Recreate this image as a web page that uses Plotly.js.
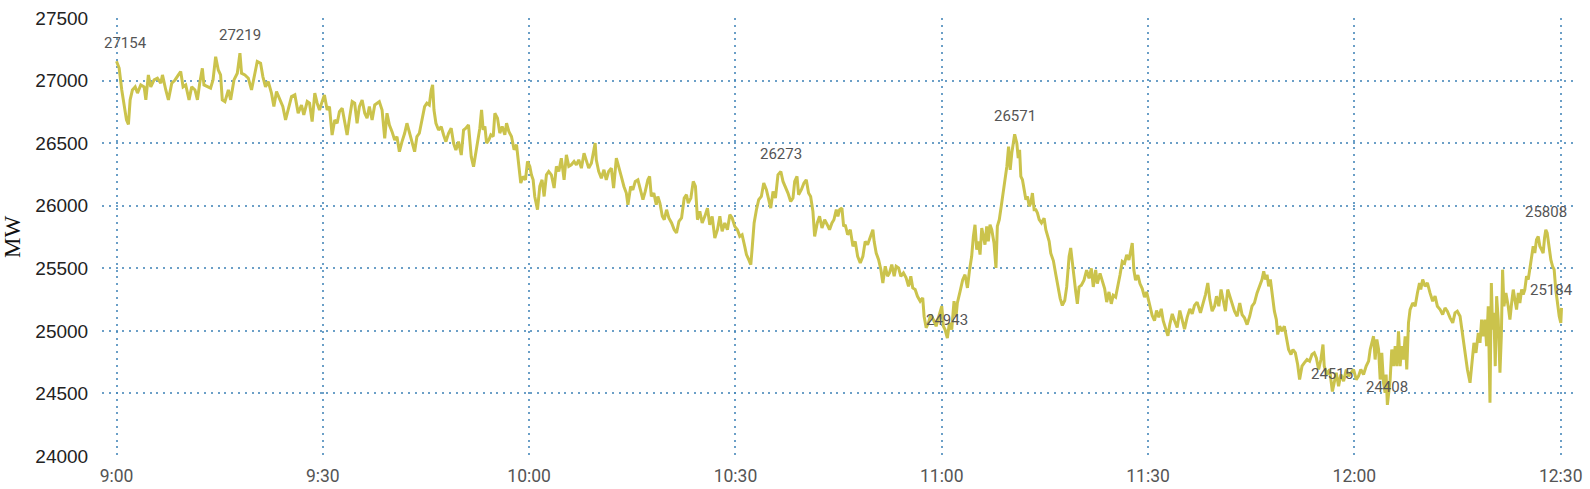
<!DOCTYPE html>
<html>
<head>
<meta charset="utf-8">
<script src="https://cdn.plot.ly/plotly-3.0.1.min.js"></script>
<style>
  html, body { margin: 0; padding: 0; background: #fff; }
  #chart { width: 1590px; height: 489px; }
</style>
</head>
<body>
<div id="chart"></div>
<script>
// minutes after 9:00 and load in MW
var mins = [
  0.0, 0.39, 0.77, 1.11, 1.45, 1.74, 1.98, 2.32, 2.71, 3.05, 3.53, 4.02, 4.26, 4.64, 4.98, 5.47, 5.95, 6.43, 6.68, 7.16,
  7.55, 8.03, 8.51, 9.0, 9.34, 9.68, 10.06, 10.55, 10.93, 11.42, 11.76, 12.1, 12.48, 12.72, 13.21, 13.69, 14.03, 14.42, 14.8, 15.14,
  15.38, 15.77, 16.26, 16.6, 17.08, 17.56, 17.95, 18.19, 18.67, 19.16, 19.64, 19.98, 20.46, 20.95, 21.29, 21.67, 22.06, 22.54, 22.88, 23.27,
  23.71, 24.19, 24.58, 25.06, 25.45, 25.93, 26.42,
  26.9, 27.24, 27.73, 28.06, 28.45, 28.84, 29.18, 29.52, 29.9, 30.24, 30.63, 30.97, 31.35, 31.74, 32.08, 32.42, 32.81, 33.19, 33.53, 33.92,
  34.26, 34.64, 34.98, 35.32, 35.71, 36.1, 36.43, 36.77, 37.16, 37.55, 37.89, 38.22, 38.61, 39.0, 39.34, 39.68, 40.06, 40.45, 40.79, 41.13,
  41.51, 41.9, 42.24, 42.58, 42.97, 43.35, 43.69, 44.03, 44.42, 44.8, 45.14, 45.48, 45.77, 45.97, 46.16, 46.45, 46.84, 47.22, 47.56, 47.9,
  48.29, 48.67, 49.01, 49.35, 49.74, 50.13, 50.46, 50.8, 51.19, 51.58, 51.92, 52.25, 52.64,
  52.84, 53.08, 53.32, 53.57, 53.81, 54.15, 54.44, 54.78, 55.02, 55.4, 55.74, 56.08, 56.47, 56.71, 57.05, 57.44, 57.82, 58.16, 58.5, 58.79,
  59.13, 59.47, 59.76, 60.1, 60.34, 60.58, 60.82, 61.21, 61.55, 61.89, 62.18, 62.52, 62.85, 63.24, 63.63, 63.97, 64.31, 64.69, 65.08, 65.42,
  65.76, 66.14, 66.53, 66.87, 67.21, 67.6, 67.98, 68.32, 68.66, 69.05, 69.6, 69.77, 70.11, 70.5, 70.89, 71.22, 71.56, 71.95, 72.29, 72.68,
  73.01, 73.4, 73.79, 74.13, 74.37, 74.76, 75.09, 75.43, 75.82, 76.21, 76.55, 76.88, 77.27, 77.51, 77.76, 78.14, 78.48, 78.72,
  79.02, 79.36, 79.65, 79.99, 80.32, 80.71, 81.1, 81.44, 81.78, 82.16, 82.55, 82.89, 83.13, 83.52, 83.86, 84.19, 84.48, 84.82, 85.16, 85.55,
  85.94, 86.27, 86.61, 87.0, 87.39, 87.73, 88.06, 88.45, 88.84, 89.18, 89.52, 89.9, 90.29, 90.63, 90.97, 91.35, 91.6, 91.94, 92.23, 92.42,
  92.71, 93.05, 93.39, 93.77, 94.11, 94.5, 94.84, 95.13, 95.47, 95.81, 96.19, 96.6, 96.92, 97.26, 97.64, 98.03, 98.37, 98.61, 98.95, 99.19,
  99.58, 99.97, 100.3, 100.64, 100.93, 101.27, 101.51, 101.9, 102.24, 102.58, 102.97, 103.35, 103.69, 104.03, 104.32, 104.66, 104.9,
  105.15, 105.49, 105.73, 105.97, 106.31, 106.7, 107.08, 107.42, 107.76, 108.15, 108.53, 108.87, 109.21, 109.6, 109.98, 110.17, 110.47, 110.81, 111.15, 111.44,
  111.78, 112.11, 112.4, 112.74, 113.08, 113.37, 113.71, 114.05, 114.44, 114.82, 115.16, 115.5, 115.79, 116.13, 116.47, 116.86, 117.24, 117.44, 117.73, 118.06,
  118.4, 118.79, 119.18, 119.52, 119.76, 120.0, 120.24, 120.48, 120.82, 121.11, 121.45, 121.79, 122.08, 122.27, 122.66, 123.05, 123.39, 123.73, 124.02, 124.35,
  124.6, 124.84, 125.08, 125.32, 125.56, 125.81, 126.05, 126.29, 126.53, 126.77, 127.02, 127.26, 127.6, 127.89, 128.08, 128.37, 128.71, 128.95,
  129.47, 129.71, 129.95, 130.19, 130.43, 130.6, 130.92, 131.11, 131.31, 131.5, 131.74, 131.98, 132.23, 132.47, 132.71, 132.95, 133.19, 133.43, 133.68, 133.92,
  134.16, 134.5, 134.89, 135.13, 135.37, 135.61, 135.85, 136.24, 136.58, 136.82, 137.21,
  137.54, 137.88, 138.17, 138.51, 138.75, 138.99, 139.24, 139.48, 139.72, 139.96, 140.3, 140.69, 141.07, 141.41, 141.75, 142.04, 142.38, 142.62, 143.01, 143.35,
  143.69, 143.98, 144.32, 144.65, 144.94, 145.28, 145.62, 145.91, 146.25, 146.59, 146.88, 147.22, 147.46, 147.7, 147.94, 148.19, 148.52, 148.82, 149.15, 149.49,
  149.78, 150.12, 150.36, 150.6, 150.94, 151.23, 151.57, 151.91, 152.2, 152.54, 152.88, 153.17, 153.51, 153.85, 154.23, 154.62, 154.96, 155.3, 155.69, 156.07,
  156.41, 156.75, 157.14,
  157.62, 158.01, 158.35, 158.69, 158.98, 159.32, 159.66, 159.95, 160.28, 160.62, 160.91, 161.25, 161.59, 161.88, 162.22, 162.56, 162.95, 163.33, 163.67, 164.01,
  164.4, 164.78, 165.12, 165.46, 165.85, 166.24, 166.57, 166.82, 167.06, 167.3, 167.54, 167.78, 168.03, 168.36, 168.65, 168.85, 169.14, 169.48, 169.82, 170.11,
  170.44, 170.78, 171.07, 171.41, 171.75, 172.04, 172.38, 172.72, 173.11, 173.49, 173.83, 174.17, 174.46, 174.8, 175.14, 175.43, 175.62, 176.01, 176.4, 176.8,
  177.1, 177.36, 177.7, 178.04, 178.43, 178.81, 179.15, 179.49, 179.88, 180.27, 180.6, 180.94, 181.33, 181.72, 182.06, 182.3, 182.54, 182.78, 183.02, 183.27,
  183.51, 183.75, 183.99, 184.23, 184.47, 184.62, 184.8, 185.2, 185.44, 185.68, 185.93, 186.17, 186.41, 186.65, 186.89, 187.14, 187.38, 187.62, 187.86, 188.1,
  188.49, 188.83, 189.17, 189.46, 189.65, 189.94, 190.28, 190.62, 191.0, 191.39, 191.73, 192.07, 192.46, 192.84, 193.18, 193.52, 193.91, 194.3, 194.63, 194.97,
  195.36, 195.75, 196.09, 196.43, 196.81, 197.1, 197.39, 197.68, 198.02, 198.26, 198.5, 198.75, 198.99, 199.23, 199.47, 199.71, 199.91, 200.1, 200.29, 200.49,
  200.68, 200.92, 201.16, 201.36, 201.55, 201.75, 202.04, 202.37, 202.62, 202.86, 203.1, 203.34, 203.58, 203.83, 204.07, 204.31, 204.55, 204.79, 205.04, 205.28,
  205.52, 205.76, 206.0, 206.24, 206.49, 206.73, 206.97, 207.21, 207.45, 207.65, 207.84, 208.03, 208.33, 208.57, 208.81, 209.05, 209.29, 209.54, 209.78, 210.02,
  210.11
];
var mw = [
  27154, 27100, 26925, 26790, 26686, 26650, 26846, 26925, 26950, 26900, 26965, 26950, 26846, 27045, 26950, 27005, 27019, 26979, 27045, 26925,
  26846, 26979, 27005, 27045, 27072, 26950, 26965, 26846, 26950, 26925, 26846, 26979, 27098, 26965, 26950, 26939, 27005, 27191, 27085, 27045,
  26846, 26832, 26925, 26846, 27005, 27059, 27219, 27059, 27045, 27019, 26925, 27032, 27152, 27138, 27032, 26950, 26992, 26900, 26793, 26912,
  26859, 26793, 26686, 26793, 26872, 26886, 26740,
  26805, 26725, 26832, 26819, 26672, 26899, 26819, 26765, 26832, 26885, 26765, 26792, 26565, 26685, 26659, 26752, 26779, 26672, 26565, 26712,
  26832, 26819, 26659, 26792, 26845, 26739, 26699, 26792, 26685, 26805, 26819, 26832, 26765, 26539, 26739, 26645, 26592, 26525, 26552, 26432,
  26512, 26579, 26659, 26592, 26512, 26432, 26552, 26579, 26685, 26792, 26819, 26805, 26925, 26965, 26765, 26659, 26605, 26632, 26565, 26512,
  26579, 26619, 26499, 26445, 26512, 26405, 26605, 26619, 26645, 26392, 26312, 26419, 26525,
  26620, 26766, 26606, 26633, 26500, 26527, 26566, 26553, 26739, 26700, 26580, 26633, 26566, 26660, 26593, 26553, 26447, 26487, 26314, 26181,
  26234, 26207, 26354, 26314, 26247, 26207, 26074, 25968, 26154, 26207, 26074, 26247, 26274, 26247, 26141, 26314, 26274, 26380, 26207, 26407,
  26314, 26327, 26354, 26327, 26367, 26300, 26420, 26354, 26300, 26340, 26500, 26367, 26274, 26220, 26287, 26207, 26274, 26300, 26141, 26380,
  26300, 26234, 26154, 26101, 26008, 26154, 26127, 26194, 26207, 26127, 26048, 26114, 26207, 26234, 26074, 26101, 26008, 26074,
  26021, 25915, 25888, 25968, 25902, 25862, 25808, 25782, 25875, 25902, 26061, 26088, 26021, 26061, 26194, 26154, 25888, 25955, 25862, 25915,
  25981, 25848, 25915, 25742, 25808, 25915, 25795, 25862, 25808, 25928, 25902, 25835, 25808, 25755, 25768, 25675, 25609, 25569, 25529, 25649,
  25862, 25968, 26048, 26074, 26181, 26128, 26048, 25981, 26114, 26061, 26247, 26273, 26194, 26154, 26101, 26034, 26061, 26194, 26234, 26088,
  26128, 26181, 26207, 26101, 26074, 25955, 25755, 25862, 25915, 25822, 25888, 25848, 25808, 25862, 25888, 25968, 25915,
  25968, 25981, 25835, 25848, 25768, 25808, 25675, 25715, 25596, 25542, 25596, 25715, 25689, 25755, 25808, 25715, 25622, 25569, 25489, 25383,
  25516, 25436, 25463, 25529, 25436, 25516, 25503, 25436, 25463, 25423, 25356, 25436, 25343, 25330, 25276, 25237, 25263, 25117, 25024, 25064,
  25130, 25090, 25037, 25103, 25143, 25197, 25037, 25010, 24943, 25064, 25010, 25237, 25117, 25223, 25316, 25409, 25449, 25343, 25476, 25596,
  25755, 25848, 25649, 25715, 25609, 25822, 25755, 25689, 25835, 25715, 25848, 25808, 25702, 25503, 25835, 25888, 26021, 26101,
  26314, 26473, 26287, 26420, 26527, 26571, 26500, 26380, 26447, 26234, 26207, 26128, 26048, 26074, 25995, 26021, 26101, 25968, 25968, 25941,
  25888, 25862, 25900, 25808, 25760, 25715, 25620, 25560, 25450, 25380, 25260,
  25203, 25243, 25351, 25594, 25662, 25540, 25419, 25311, 25216, 25351, 25365, 25405, 25486, 25419, 25500, 25351, 25486, 25378, 25459, 25392,
  25338, 25230, 25311, 25216, 25284, 25270, 25351, 25446, 25554, 25540, 25608, 25567, 25635, 25702, 25486, 25405, 25446, 25378, 25338, 25270,
  25311, 25230, 25162, 25122, 25081, 25162, 25108, 25176, 25081, 25014, 24960, 25054, 25135, 25081, 25027, 25162, 25095, 25014, 25108, 25176,
  25135, 25203, 25230,
  25144, 25223, 25290, 25383, 25250, 25157, 25197, 25277, 25197, 25330, 25237, 25157, 25330, 25277, 25237, 25157, 25117, 25223, 25130, 25104,
  25050, 25117, 25197, 25223, 25303, 25370, 25410, 25476, 25410, 25449, 25356, 25410, 25303, 25157, 25090, 24971, 25037, 24997, 25037, 24931,
  24851, 24811, 24851, 24824, 24731, 24611, 24718, 24744, 24771, 24758, 24811, 24824, 24784, 24691, 24771, 24891, 24718, 24651, 24691, 24515,
  24611, 24665, 24558, 24651, 24598, 24691, 24638, 24665, 24691, 24611, 24638, 24691, 24651, 24718, 24758, 24851, 24904, 24957, 24771, 24931,
  24851, 24611, 24824, 24585, 24505, 24650, 24408, 24611, 24851, 24718, 24878, 24718, 24997, 24718, 24878, 24771, 24957, 24691, 25064, 25170,
  25223, 25197, 25303, 25383, 25330, 25410, 25356, 25383, 25303, 25237, 25277, 25197, 25170, 25130, 25183, 25157, 25104, 25064, 25144, 25157,
  25117, 24957, 24798, 24691, 24585, 24771, 24904, 24824, 24984, 24904, 25090, 24957, 25090, 24878, 25197, 24425, 25383, 25010, 25144, 24718,
  25277, 25090, 24665, 24957, 25489, 25197, 25303, 25197, 25090, 25223, 25330, 25250, 25170, 25303, 25223, 25330, 25290, 25330, 25436, 25410,
  25489, 25596, 25676, 25622, 25729, 25755, 25676, 25649, 25622, 25742, 25808, 25782, 25649, 25569, 25516, 25489, 25330, 25197, 25117, 25064,
  25184
];

// labelled extremes
var markMins = [0.0, 17.95, 96.6, 120.82, 130.6, 176.8, 184.8, 207.84, 210.11];
var markVals = [27154, 27219, 26273, 24943, 26571, 24515, 24408, 25808, 25184];
var markShift = [9, 0, 0, 0, 0, 0, 0, 0, -10];

var tickMins = [0, 30, 60, 90, 120, 150, 180, 210];
var tickLabels = ['9:00', '9:30', '10:00', '10:30', '11:00', '11:30', '12:00', '12:30'];
var yTicks = [24000, 24500, 25000, 25500, 26000, 26500, 27000, 27500];

function pad(n) { return (n < 10 ? '0' : '') + n; }
function toTime(m) {
  var s = Math.round(m * 60);
  var h = 9 + Math.floor(s / 3600);
  var mm = Math.floor((s % 3600) / 60);
  return '2024-01-01 ' + pad(h) + ':' + pad(mm) + ':' + pad(s % 60);
}

var trace1 = {
  x: mins.map(toTime),
  y: mw,
  type: 'scatter',
  mode: 'lines',
  line: { color: '#cbc34c', width: 3 },
  hovertemplate: '%{y} MW<extra></extra>'
};

var annotations = markMins.map(function (m, i) {
  return {
    x: toTime(m),
    y: markVals[i],
    text: String(markVals[i]),
    showarrow: false,
    yanchor: 'bottom',
    yshift: 7,
    xshift: markShift[i],
    font: { family: 'Roboto', size: 15, color: '#555' }
  };
});

var gridStyle = { color: 'rgba(70,135,185,0.8)', width: 2, dash: '2px,4.8px' };

var layout = {
  width: 1590,
  height: 489,
  margin: { l: 102, r: 15, t: 18, b: 33 },
  paper_bgcolor: '#fff',
  plot_bgcolor: '#fff',
  showlegend: false,
  xaxis: {
    type: 'date',
    range: [toTime(-2.18), toTime(211.6)],
    tickvals: tickMins.map(toTime),
    ticktext: tickLabels,
    showgrid: true,
    gridcolor: gridStyle.color,
    gridwidth: gridStyle.width,
    griddash: gridStyle.dash,
    zeroline: false,
    showline: false,
    ticks: 'outside',
    ticklen: 4,
    tickcolor: 'rgba(0,0,0,0)',
    tickfont: { family: 'Roboto', size: 17.5, color: '#555' }
  },
  yaxis: {
    range: [24000, 27500],
    tickvals: yTicks,
    ticktext: yTicks.map(String),
    showgrid: true,
    gridcolor: gridStyle.color,
    gridwidth: gridStyle.width,
    griddash: gridStyle.dash,
    zeroline: false,
    showline: false,
    ticks: 'outside',
    ticklen: 9,
    tickcolor: 'rgba(0,0,0,0)',
    tickfont: { family: 'Liberation Sans', size: 19, color: '#222' },
    title: {
      text: 'MW',
      standoff: 8,
      font: { family: 'Liberation Serif', size: 23, color: '#111' }
    }
  },
  annotations: annotations
};

Plotly.newPlot('chart', [trace1], layout, { displayModeBar: false, staticPlot: true });
</script>
</body>
</html>
